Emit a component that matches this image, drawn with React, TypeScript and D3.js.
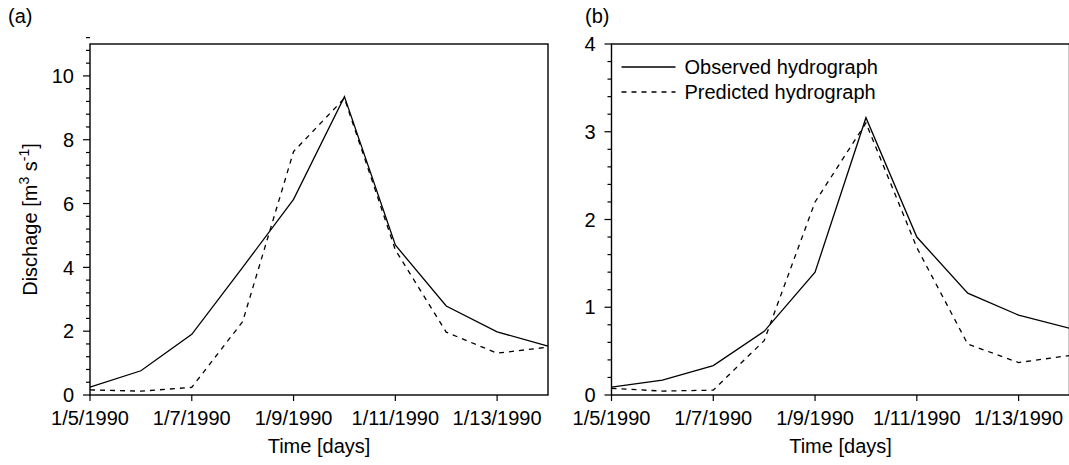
import React from "react";
import * as d3 from "d3";

// Daily dates, 5–14 January 1990
const dates: Date[] = [5, 6, 7, 8, 9, 10, 11, 12, 13, 14].map((d) => new Date(1990, 0, d));
const tickDates: Date[] = [5, 7, 9, 11, 13].map((d) => new Date(1990, 0, d));

// Panel (a) discharge, m3/s
const observedA = [0.25, 0.76, 1.9, 4.0, 6.13, 9.35, 4.7, 2.79, 1.98, 1.53];
const predictedA = [0.16, 0.12, 0.24, 2.3, 7.63, 9.3, 4.55, 1.97, 1.31, 1.5];

// Panel (b) discharge, m3/s
const observedB = [0.09, 0.17, 0.335, 0.725, 1.4, 3.16, 1.8, 1.16, 0.91, 0.76];
const predictedB = [0.075, 0.045, 0.055, 0.62, 2.2, 3.1, 1.68, 0.58, 0.37, 0.45];

const seriesNames = ["Observed hydrograph", "Predicted hydrograph"];

const W = 1069;
const H = 465;
const FONT = "'Liberation Sans', Arial, Helvetica, sans-serif";
const fmt = d3.timeFormat("%-m/%-d/%Y");

type PanelProps = {
  label: string;
  labelX: number;
  x0: number;
  x1: number;
  yMax: number;
  majorStep: number;
  minorStep: number;
  observed: number[];
  predicted: number[];
  showYLabel: boolean;
  showLegend: boolean;
};

const TOP = 44;
const BOTTOM = 395;

function Panel(p: PanelProps) {
  const x = d3.scaleTime().domain([dates[0], dates[dates.length - 1]]).range([p.x0, p.x1]);
  const y = d3.scaleLinear().domain([0, p.yMax]).range([BOTTOM, TOP]);
  const line = d3
    .line<number>()
    .x((_, i) => x(dates[i]))
    .y((v) => y(v));

  const nMinor = Math.round(p.yMax / p.minorStep);
  const minor = d3.range(nMinor + 1).map((i) => +(i * p.minorStep).toFixed(4));
  const major = d3.range(0, p.yMax + 1e-9, p.majorStep).filter((v) => v <= p.yMax);
  const isMajor = (v: number) => Math.abs(v / p.majorStep - Math.round(v / p.majorStep)) < 1e-6;

  const cx = (p.x0 + p.x1) / 2;

  return (
    <g>
      <text x={p.labelX} y={23} fontSize={20} fontFamily={FONT}>
        {p.label}
      </text>

      {/* data */}
      <path d={line(p.observed) || ""} fill="none" stroke="#000" strokeWidth={1.3} />
      <path
        d={line(p.predicted) || ""}
        fill="none"
        stroke="#000"
        strokeWidth={1.3}
        strokeDasharray="5,5"
      />

      {/* frame */}
      <rect
        x={p.x0}
        y={TOP}
        width={p.x1 - p.x0}
        height={BOTTOM - TOP}
        fill="none"
        stroke="#000"
        strokeWidth={1.4}
      />

      {/* y ticks */}
      {minor.map((v) => (
        <line
          key={"m" + v}
          x1={p.x0 - (isMajor(v) ? 7 : 4)}
          x2={p.x0}
          y1={y(v)}
          y2={y(v)}
          stroke="#000"
          strokeWidth={1.2}
        />
      ))}
      {major.map((v) => (
        <text
          key={"l" + v}
          x={p.x0 - 16}
          y={y(v) + 7.2}
          textAnchor="end"
          fontSize={20}
          fontFamily={FONT}
        >
          {d3.format("d")(v)}
        </text>
      ))}

      {/* x ticks */}
      {tickDates.map((d) => (
        <g key={d.getTime()}>
          <line x1={x(d)} x2={x(d)} y1={BOTTOM} y2={BOTTOM + 6} stroke="#000" strokeWidth={1.2} />
          <text x={x(d)} y={425} textAnchor="middle" fontSize={20} fontFamily={FONT}>
            {fmt(d)}
          </text>
        </g>
      ))}

      <text x={cx} y={453} textAnchor="middle" fontSize={20} fontFamily={FONT}>
        Time [days]
      </text>

      {p.showYLabel && (
        <text
          transform={`translate(37,${(TOP + BOTTOM) / 2}) rotate(-90)`}
          textAnchor="middle"
          fontSize={20}
          fontFamily={FONT}
        >
          Dischage [m
          <tspan fontSize={14} dy={-8}>
            3
          </tspan>
          <tspan dy={8}> s</tspan>
          <tspan fontSize={14} dy={-8}>
            -1
          </tspan>
          <tspan dy={8}>]</tspan>
        </text>
      )}

      {p.showLegend && (
        <g>
          {seriesNames.map((name, i) => (
            <g key={name}>
              <line
                x1={p.x0 + 10}
                x2={p.x0 + 64}
                y1={67 + i * 25}
                y2={67 + i * 25}
                stroke="#000"
                strokeWidth={1.3}
                strokeDasharray={i === 1 ? "5,5" : undefined}
              />
              <text x={p.x0 + 73} y={74 + i * 25} fontSize={20} fontFamily={FONT}>
                {name}
              </text>
            </g>
          ))}
        </g>
      )}
    </g>
  );
}

export default function App() {
  return (
    <svg
      width={W}
      height={H}
      viewBox={`0 0 ${W} ${H}`}
      style={{ position: "absolute", left: 0, top: 0, background: "#fff" }}
    >
      <rect width={W} height={H} fill="#fff" />
      <Panel
        label="(a)"
        labelX={8}
        x0={90}
        x1={548}
        yMax={11}
        majorStep={2}
        minorStep={0.4}
        observed={observedA}
        predicted={predictedA}
        showYLabel={true}
        showLegend={false}
      />
      <Panel
        label="(b)"
        labelX={585}
        x0={611.5}
        x1={1069.5}
        yMax={4}
        majorStep={1}
        minorStep={0.2}
        observed={observedB}
        predicted={predictedB}
        showYLabel={false}
        showLegend={true}
      />
    </svg>
  );
}
